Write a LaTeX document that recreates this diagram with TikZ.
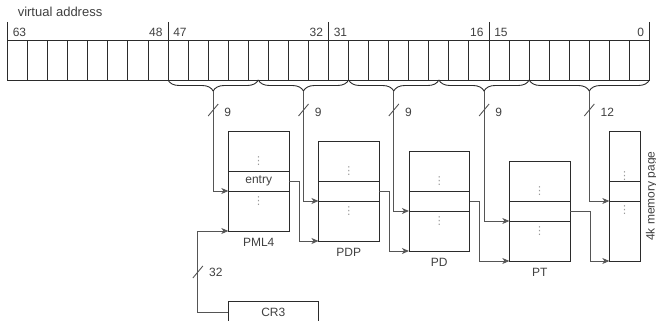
\documentclass[tikz,border=0pt]{standalone}
\usepackage{fontspec}
\setmainfont{Liberation Sans}
\newfontfamily\symfont{DejaVu Sans}
\usepackage{xcolor}
\usepackage{tikz}
\usetikzlibrary{
    arrows.meta,
    positioning,
    decorations.pathreplacing
}

\definecolor{linegray}{HTML}{2B2B2B}
\definecolor{wiregray}{HTML}{555555}
\definecolor{textgray}{HTML}{404040}
\definecolor{dotgray}{HTML}{9A9A9A}

\begin{document}
\begin{tikzpicture}[
x=1pt, y=-1pt,
line width=0.9pt,
every node/.style={
text=textgray,
font=\fontsize{12}{14}\selectfont
},
row/.style={
draw=linegray,
minimum width=60.7pt,
minimum height=40pt,
inner sep=0pt,
outer sep=0pt
},
entryrow/.style={
row,
minimum height=20pt
},
pagerow/.style={
row,
minimum width=30.7pt
},
dotsym/.style={
text=dotgray,
inner sep=0pt,
font=\symfont\fontsize{11}{11}\selectfont
},
brc/.style={
draw=linegray,
decorate,
decoration={brace, mirror, amplitude=11pt}
},
link/.style={
draw=wiregray,
-{Stealth[length=7pt, width=6pt, inset=2pt]}
}
]

\useasboundingbox (0,0) rectangle (656,321);

% virtual address bits
\node[anchor=west, font=\fontsize{13}{15}\selectfont] (va) at (14,12)
{virtual address};

\foreach \i in {0,...,31}
\draw[linegray, line width=0.8pt] (7.5+\i*20.06,40) rectangle ++(20.06,40);

\foreach \x in {7.5,168,328.5,489,649.4}
\draw[linegray, line width=0.8pt] (\x,22) -- (\x,40);

\node[anchor=west] (n63) at (9,32.5) {63};
\node[anchor=east] (n48) at (166.3,32.5) {48};
\node[anchor=west] (n47) at (169.5,32.5) {47};
\node[anchor=east] (n32) at (326.8,32.5) {32};
\node[anchor=west] (n31) at (330,32.5) {31};
\node[anchor=east] (n16) at (487.3,32.5) {16};
\node[anchor=west] (n15) at (490.5,32.5) {15};
\node[anchor=east] (n0) at (647.7,32.5) {0};

% index fields
\foreach \a/\b in {168/258.3, 258.3/348.6, 348.6/438.9, 438.9/529.2, 529.2/649.4}
\draw[brc] (\a,80) -- (\b,80);

\coordinate (t1) at (213.2,91);
\coordinate (t2) at (303.5,91);
\coordinate (t3) at (393.8,91);
\coordinate (t4) at (484.1,91);
\coordinate (t5) at (589.3,91);

% tables
\node[row] (pml4t) at (258.7,151) {};
\node[entryrow, below=0pt of pml4t] (pml4e) {entry};
\node[row, below=0pt of pml4e] (pml4b) {};
\node[below=3pt of pml4b] (pml4l) {PML4};

\node[row] (pdpt) at (348.8,161) {};
\node[entryrow, below=0pt of pdpt] (pdpe) {};
\node[row, below=0pt of pdpe] (pdpb) {};
\node[below=3pt of pdpb] (pdpl) {PDP};

\node[row] (pdt) at (439.3,171) {};
\node[entryrow, below=0pt of pdt] (pde) {};
\node[row, below=0pt of pde] (pdb) {};
\node[below=3pt of pdb] (pdl) {PD};

\node[row] (ptt) at (539.7,181) {};
\node[entryrow, below=0pt of ptt] (pte) {};
\node[row, below=0pt of pte] (ptb) {};
\node[below=3pt of ptb] (ptl) {PT};

\node[pagerow, minimum height=50pt] (pgt) at (624.7,156) {};
\node[pagerow, minimum height=20pt, below=0pt of pgt] (pge) {};
\node[pagerow, minimum height=60pt, below=0pt of pge] (pgb) {};
\node[rotate=90] (pgl) at (651.5,196) {4k memory page};

% dots
\foreach \tb in {pml4, pdp, pd, pt}{
\node[dotsym] (\tb d1) at ([yshift=10pt]\tb t.south) {⋮};
\node[dotsym] (\tb d2) at ([yshift=-10pt]\tb b.north) {⋮};
}
\node[dotsym] (pgd1) at ([yshift=5pt]pgt.south) {⋮};
\node[dotsym] (pgd2) at ([yshift=-9pt]pgb.north) {⋮};

\node[draw=linegray, minimum width=90pt, minimum height=21pt,
inner sep=0pt] (cr3) at (273.3,312) {CR3};

% index lines
\draw[link] (t1) |- (pml4e.south west);
\draw[link] (t2) |- (pdpe.south west);
\draw[link] (t3) |- (pde.south west);
\draw[link] (t4) |- (pte.south west);
\draw[link] (t5) |- (pge.south west);

\foreach \t/\w in {t1/9, t2/9, t3/9, t4/9, t5/12}{
\draw[wiregray] ([shift={(-5,25)}]\t) -- ++(10,-12);
\node[anchor=west] (w\t) at ([shift={(7.5,21.5)}]\t) {\w};
}

% table walk
\draw[link] (pml4e.east) -- ++(10,0) |- (pdpb.south west);
\draw[link] (pdpe.east) -- ++(10,0) |- (pdb.south west);
\draw[link] (pde.east) -- ++(10,0) |- (ptb.south west);
\draw[link] (pte.east) -- ++(20,0) |- (pgb.south west);

\draw[link] (cr3.west) -- ++(-30,0) coordinate (cr3c)
|- (pml4b.south west);
\draw[wiregray] ([shift={(-5,-34)}]cr3c) -- ++(10,-12);
\node[anchor=west] (w32) at ([shift={(7.5,-40)}]cr3c) {32};

\end{tikzpicture}
\end{document}
